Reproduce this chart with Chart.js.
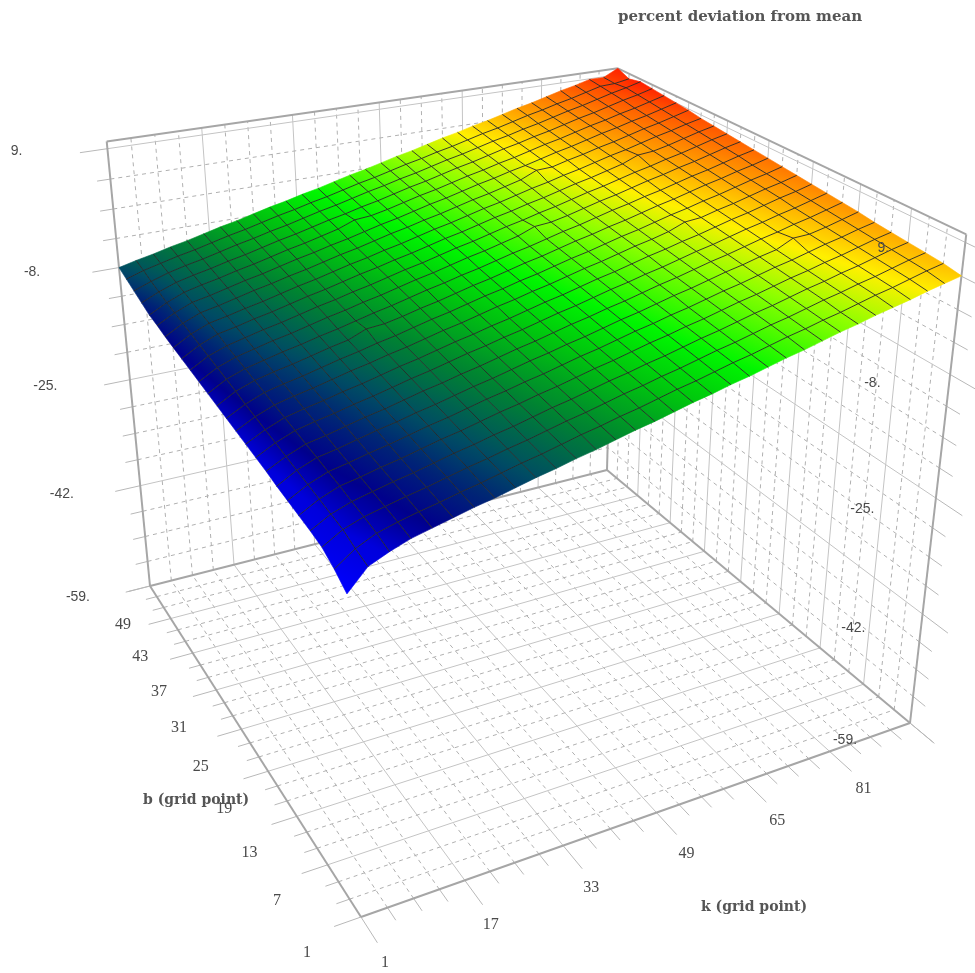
<!DOCTYPE html>
<html><head><meta charset="utf-8">
<script src="https://cdn.jsdelivr.net/npm/chart.js@4.4.1/dist/chart.umd.min.js"></script>
<style>html,body{margin:0;padding:0;background:#fff;overflow:hidden}</style>
</head><body>
<canvas id="c" width="975" height="973"></canvas>
<script>
// ---------------- data ----------------
const kGrid = [1,4,7,10,13,16,19,22,25,28,31,34,37,40,43,46,49,52,55,58,61,64,67,70,73,76,79,82,85,88,91,94,97];
const bGrid = [1,3,5,7,9,11,13,15,17,19,21,23,25,27,29,31,33,35,37,39,41,43,45,47,49];
// percent deviation from mean, one row per b grid point, values along k
const zB01 = [-16,-13.4,-12.3,-11.4,-10.8,-10.2,-9.6,-9.1,-8.5,-7.9,-7.4,-6.8,-6.3,-5.7,-5.1,-4.6,-4,-3.4,-2.9,-2.3,-1.8,-1.2,-0.6,-0.1,0.5,1.1,1.6,2.2,2.7,3.2,3.8,4.3,4.8];
const zB03 = [-14.8,-13,-11.8,-11.1,-10.5,-10,-9.4,-8.9,-8.3,-7.7,-7.2,-6.6,-6,-5.5,-4.9,-4.4,-3.8,-3.2,-2.7,-2.1,-1.5,-1,-0.4,0.2,0.7,1.3,1.8,2.4,3,3.5,4.1,4.7,5.2];
const zB05 = [-13.9,-12.4,-11.5,-10.9,-10.3,-9.8,-9.2,-8.6,-8.1,-7.5,-7,-6.4,-5.8,-5.3,-4.7,-4.1,-3.6,-3,-2.5,-1.9,-1.3,-0.8,-0.2,0.4,0.9,1.5,2.1,2.6,3.2,3.7,4.3,4.9,5.4];
const zB07 = [-13.6,-12.2,-11.3,-10.7,-10.1,-9.6,-9,-8.4,-7.9,-7.3,-6.8,-6.2,-5.6,-5.1,-4.5,-3.9,-3.4,-2.8,-2.3,-1.7,-1.1,-0.6,0,0.6,1.1,1.7,2.3,2.8,3.4,3.9,4.5,5.1,5.6];
const zB09 = [-13.4,-12,-11,-10.5,-9.9,-9.4,-8.8,-8.2,-7.7,-7.1,-6.5,-6,-5.4,-4.9,-4.3,-3.7,-3.2,-2.6,-2,-1.5,-0.9,-0.4,0.2,0.8,1.3,1.9,2.5,3,3.6,4.1,4.7,5.3,5.8];
const zB11 = [-13.2,-11.8,-10.8,-10.3,-9.7,-9.2,-8.6,-8,-7.5,-6.9,-6.3,-5.8,-5.2,-4.7,-4.1,-3.5,-3,-2.4,-1.8,-1.3,-0.7,-0.2,0.4,1,1.5,2.1,2.7,3.2,3.8,4.4,4.9,5.5,6];
const zB13 = [-13,-11.6,-10.6,-10.1,-9.5,-8.9,-8.4,-7.8,-7.3,-6.7,-6.1,-5.6,-5,-4.4,-3.9,-3.3,-2.8,-2.2,-1.6,-1.1,-0.5,0.1,0.6,1.2,1.8,2.3,2.9,3.4,4.5,4.6,5.1,5.7,6.3];
const zB15 = [-12.7,-11.4,-10.4,-9.9,-9.3,-8.7,-8.2,-7.6,-7,-6.5,-5.9,-5.4,-4.8,-4.2,-3.7,-3.1,-2.5,-2,-1.4,-0.9,-0.3,0.3,0.8,1.4,2,2.5,3.1,3.7,4.2,4.8,5.3,5.9,6.5];
const zB17 = [-12.5,-11.2,-10.2,-9.6,-9.1,-8.5,-8,-7.4,-6.8,-6.3,-5.7,-5.1,-4.6,-4,-3.5,-2.9,-2.3,-1.8,-1.2,-0.6,-0.1,0.5,1,1.6,2.2,2.7,3.3,3.9,4.4,5,5.5,6.1,6.7];
const zB19 = [-12.3,-11,-10,-9.4,-8.9,-8.3,-7.8,-7.2,-6.6,-6.1,-5.5,-4.9,-4.4,-3.8,-3.3,-2.7,-2.1,-1.6,-1,-0.4,0.1,0.7,1.3,1.8,2.4,2.9,3.5,4.1,4.6,5.2,5.8,6.3,6.9];
const zB21 = [-12.1,-10.8,-9.8,-9.2,-8.7,-8.1,-7.5,-7,-6.4,-5.9,-5.3,-4.7,-4.2,-3.6,-3,-2.5,-1.9,-1.4,-0.8,-0.2,0.3,0.9,1.5,2,2.6,3.5,3.7,4.3,4.8,5.4,6,6.5,7.1];
const zB23 = [-11.9,-10.6,-9.6,-9,-8.5,-7.9,-7.3,-6.8,-6.2,-5.7,-5.1,-4.5,-4,-3.4,-2.8,-2.3,-1.7,-1.2,-0.6,0,0.5,1.1,1.7,2.2,2.8,3.4,3.9,4.5,5,5.6,6.2,6.7,7.3];
const zB25 = [-11.7,-10.3,-9.4,-8.8,-8.3,-7.7,-7.1,-6.6,-5.6,-5.4,-4.9,-4.3,-3.8,-3.2,-2.6,-2.1,-1.5,-0.9,-0.4,0.2,0.8,1.3,1.9,2.4,3,3.6,4.1,4.7,5.3,5.8,6.4,6.9,7.5];
const zB27 = [-11.5,-10.1,-9.2,-8.6,-8,-7.5,-6.9,-6.4,-5.8,-5.2,-4.7,-4.1,-3.5,-3,-2.4,-1.9,-1.3,-0.7,-0.2,0.4,1,1.5,2.1,2.7,3.2,3.8,4.3,4.9,5.5,6,6.6,7.2,7.7];
const zB29 = [-11.3,-9.9,-9,-8.4,-7.8,-7.3,-6.7,-6.1,-5.6,-5,-4.5,-3.9,-3.3,-2.8,-2.2,-1.6,-1.1,-0.5,0.1,1,1.2,1.7,2.3,2.9,3.4,4,4.6,5.1,5.7,6.2,6.8,7.4,7.9];
const zB31 = [-11.1,-9.7,-8.8,-8.2,-7.6,-7.1,-6.5,-5.9,-5.4,-4.8,-4.3,-3.7,-3.1,-2.6,-2,-1.4,-0.9,-0.3,0.3,0.8,1.4,1.9,2.5,3.1,3.6,4.2,4.8,5.3,5.9,6.4,7,7.6,8.1];
const zB33 = [-10.9,-9.5,-8.5,-8,-7.4,-6.9,-6.3,-5.7,-5.2,-4.6,-4,-3.5,-2.9,-2.4,-1.8,-1.2,-0.7,-0.1,0.5,1,1.6,2.1,2.7,3.3,3.8,4.4,5,5.9,6.1,6.6,7.2,7.8,8.3];
const zB35 = [-10.7,-9.3,-8.3,-7.8,-7.2,-6.7,-6.1,-5.5,-5,-4.4,-3.8,-3.3,-2.7,-2.2,-1.6,-1,-0.5,0.1,0.7,1.2,1.8,2.4,2.9,3.5,4,4.6,5.2,5.7,6.3,6.9,7.4,8,8.5];
const zB37 = [-10.5,-9.1,-8.1,-7.6,-7,-6.4,-5.9,-5.3,-4.8,-4.2,-3.6,-3.1,-2.5,-1.9,-1.4,-0.8,-0.3,0.3,0.9,1.4,2,2.6,3.6,3.7,4.3,4.8,5.4,5.9,6.5,7.1,7.6,8.2,8.8];
const zB39 = [-10.2,-8.9,-7.9,-7.4,-6.8,-6.2,-5.7,-5.1,-4.5,-4,-3.4,-2.9,-2.3,-1.7,-1.2,-0.6,0,0.5,1.1,1.7,2.2,2.8,3.3,3.9,4.5,5,5.6,6.2,6.7,7.3,7.8,8.4,9];
const zB41 = [-10,-8.7,-7.7,-7.1,-6.6,-6,-5.5,-4.9,-4.3,-3.8,-3.2,-2.6,-1.7,-1.5,-1,-0.4,0.2,0.7,1.3,1.9,2.4,3,3.5,4.1,4.7,5.2,5.8,6.4,6.9,7.5,8,8.6,9.2];
const zB43 = [-9.5,-8.4,-7.5,-6.9,-6.4,-5.8,-5.3,-4.7,-4.1,-3.6,-3,-2.4,-1.9,-1.3,-0.8,-0.2,0.4,0.9,1.5,2.1,2.6,3.2,3.8,4.3,4.9,5.4,6,6.6,7.1,7.7,8.3,8.8,9.4];
const zB45 = [-9,-8.1,-7.3,-6.7,-6.2,-5.6,-5,-4.5,-3.9,-3.4,-2.8,-2.2,-1.7,-1.1,-0.5,0,0.6,1.1,1.7,2.3,2.8,3.4,4,4.5,5.1,5.6,6.2,6.8,7.3,7.9,8.5,9,9.6];
const zB47 = [-8.5,-7.7,-7.1,-6.5,-6,-5.4,-4.8,-4.3,-3.7,-3.1,-2.6,-2,-1.5,-0.9,-0.3,0.2,0.8,1.4,1.9,2.5,3,3.6,4.2,4.7,5.3,5.9,6.4,7,7.5,8.1,8.7,8.8,9.2];
const zB49 = [-8,-7.4,-6.9,-6.3,-5.8,-5.2,-4.6,-4.1,-3.5,-2.9,-2.4,-1.8,-1.3,-0.7,-0.1,0.4,1,1.6,2.1,2.7,3.3,3.8,4.4,4.9,5.5,6.1,6.6,7.2,7.8,8.3,8.9,8.9,10];
const zRows = [zB01,zB03,zB05,zB07,zB09,zB11,zB13,zB15,zB17,zB19,zB21,zB23,zB25,zB27,zB29,zB31,zB33,zB35,zB37,zB39,zB41,zB43,zB45,zB47,zB49];

const kTicks = [1,17,33,49,65,81];
const bTicks = [1,7,13,19,25,31,37,43,49];
const zTicks = [-59,-42,-25,-8,9];
const zTickLabels = ['-59.','-42.','-25.','-8.','9.'];
const kMinorStep = 4, bMinorStep = 2, zMinorStep = 4.25, kMajorStep = 16, bMajorStep = 6;

const titleText = 'percent deviation from mean';
const kTitle = 'k (grid point)';
const bTitle = 'b (grid point)';

// ---------------- box / view ----------------
const K_MIN = 1, K_MAX = 97, B_MIN = 1, B_MAX = 49, Z_MIN = -59, Z_MAX = 10;
// screen anchors of the box corners (chart scale units)
const view = {A:[150,586], B:[361,917], C:[910,723], D:[607,470], At:[107,143], Dt:[617,68], Ct:[967,233]};

function det3(m){return m[0][0]*(m[1][1]*m[2][2]-m[1][2]*m[2][1])-m[0][1]*(m[1][0]*m[2][2]-m[1][2]*m[2][0])+m[0][2]*(m[1][0]*m[2][1]-m[1][1]*m[2][0]);}
function solve3(M,v){const D=det3(M);const out=[];for(let c=0;c<3;c++){const m=M.map((r,i)=>r.map((x,j)=>j===c?v[i]:x));out.push(det3(m)/D);}return out;}
function buildCamera(){
  const [x0,y0]=view.B,[x1,y1]=view.C,[x2,y2]=view.D,[x3,y3]=view.A;
  const dx1=x1-x2,dx2=x3-x2,dx3=x0-x1+x2-x3;
  const dy1=y1-y2,dy2=y3-y2,dy3=y0-y1+y2-y3;
  const den=dx1*dy2-dx2*dy1;
  const g=(dx3*dy2-dx2*dy3)/den,h=(dx1*dy3-dx3*dy1)/den;
  const a=x1-x0+g*x1,b=x3-x0+h*x3,c=x0,d=y1-y0+g*y1,e=y3-y0+h*y3,f=y0;
  const F=(u,w)=>[a*u+b*w+c,d*u+e*w+f,g*u+h*w+1];
  const tops=[[0,1,view.At],[1,1,view.Dt],[1,0,view.Ct]];
  const M=[[0,0,0],[0,0,0],[0,0,0]],v=[0,0,0];
  for(const [u,w,[X,Y]] of tops){
    const Fv=F(u,w);
    const rows=[[[1,0,-X],X*Fv[2]-Fv[0]],[[0,1,-Y],Y*Fv[2]-Fv[1]]];
    for(const [r,rhs] of rows){for(let p=0;p<3;p++){v[p]+=r[p]*rhs;for(let q=0;q<3;q++)M[p][q]+=r[p]*r[q];}}
  }
  return {F,P:solve3(M,v)};
}
const cam = buildCamera();
function project(k,b,z){
  const u=(k-K_MIN)/(K_MAX-K_MIN), w=(b-B_MIN)/(B_MAX-B_MIN), t=(z-Z_MIN)/(Z_MAX-Z_MIN);
  const Fv=cam.F(u,w);
  const X=Fv[0]+t*cam.P[0],Y=Fv[1]+t*cam.P[1],W=Fv[2]+t*cam.P[2];
  return {x:X/W,y:Y/W,w:W};
}

// ---------------- colours ----------------
const colorStops=[[-16,[0,0,255]],[-12.5,[0,0,220]],[-10.7,[0,0,140]],[-9.3,[0,35,118]],[-8,[0,75,100]],[-5.8,[0,130,50]],[-3.5,[0,195,15]],[-1.5,[0,245,0]],[1.5,[140,255,0]],[3.8,[255,240,0]],[6,[255,160,0]],[8.5,[255,80,0]],[10,[255,10,0]]];
function zColor(z){
  if(z<=colorStops[0][0])return 'rgb('+colorStops[0][1].join(',')+')';
  for(let i=1;i<colorStops.length;i++){
    if(z<=colorStops[i][0]){const [z0,c0]=colorStops[i-1],[z1,c1]=colorStops[i];const t=(z-z0)/(z1-z0);
      return 'rgb('+c0.map((v,j)=>Math.round(v+(c1[j]-v)*t)).join(',')+')';}
  }
  return 'rgb('+colorStops[colorStops.length-1][1].join(',')+')';
}

// ---------------- mesh datasets ----------------
const meshDatasets=[];
for(let i=1;i<kGrid.length-1;i++){
  meshDatasets.push({data:bGrid.map((b,j)=>{const p=project(kGrid[i],b,zRows[j][i]);return {x:p.x,y:p.y};}),
    showLine:true,borderColor:'rgba(40,40,40,0.9)',borderWidth:1,pointRadius:0,tension:0});
}
for(let j=1;j<bGrid.length-1;j++){
  meshDatasets.push({data:kGrid.map((k,i)=>{const p=project(k,bGrid[j],zRows[j][i]);return {x:p.x,y:p.y};}),
    showLine:true,borderColor:'rgba(40,40,40,0.9)',borderWidth:1,pointRadius:0,tension:0});
}

function range(a,b,s){const o=[];for(let v=a;v<=b+1e-9;v+=s)o.push(+v.toFixed(4));return o;}

const surfacePlugin={
  id:'surface3d',
  beforeDatasetsDraw(chart){
    const ctx=chart.ctx, xs=chart.scales.x, ys=chart.scales.y;
    const px=p=>[xs.getPixelForValue(p.x),ys.getPixelForValue(p.y)];
    const line=(a,b)=>{const p=px(project(...a)),q=px(project(...b));ctx.beginPath();ctx.moveTo(p[0],p[1]);ctx.lineTo(q[0],q[1]);ctx.stroke();};
    ctx.save();
    const solid=()=>{ctx.setLineDash([]);ctx.strokeStyle='#c4c4c4';ctx.lineWidth=1;};
    const dashed=()=>{ctx.setLineDash([4,4]);ctx.strokeStyle='#b0b0b0';ctx.lineWidth=1;};
    const tick=()=>{ctx.setLineDash([]);ctx.strokeStyle='#b8b8b8';ctx.lineWidth=1;};
    const kLines=range(K_MIN,K_MAX,kMinorStep), bLines=range(B_MIN,B_MAX,bMinorStep), zLines=range(Z_MIN,Z_MAX,zMinorStep);
    const isMajK=k=>Math.abs(((k-K_MIN)/kMajorStep)-Math.round((k-K_MIN)/kMajorStep))<1e-6;
    const isMajB=b=>Math.abs(((b-B_MIN)/bMajorStep)-Math.round((b-B_MIN)/bMajorStep))<1e-6;
    const isMajZ=z=>zTicks.some(t=>Math.abs(t-z)<1e-6);
    // floor
    for(const k of kLines){ if(k===K_MIN||k===K_MAX)continue; isMajK(k)?solid():dashed(); line([k,B_MIN,Z_MIN],[k,B_MAX,Z_MIN]); }
    for(const b of bLines){ if(b===B_MIN||b===B_MAX)continue; isMajB(b)?solid():dashed(); line([K_MIN,b,Z_MIN],[K_MAX,b,Z_MIN]); }
    for(const k of kLines){ tick(); line([k,B_MIN,Z_MIN],[k,B_MIN-(isMajK(k)?2.8:1.4),Z_MIN]); }
    for(const b of bLines){ tick(); line([K_MIN,b,Z_MIN],[K_MIN-(isMajB(b)?4:2),b,Z_MIN]); }
    // back wall b = B_MAX
    for(const k of kLines){ if(k===K_MIN||k===K_MAX)continue; isMajK(k)?solid():dashed(); line([k,B_MAX,Z_MIN],[k,B_MAX,Z_MAX]); }
    for(const z of zLines){ if(z===Z_MIN)continue; isMajZ(z)?solid():dashed(); line([K_MIN,B_MAX,z],[K_MAX,B_MAX,z]); tick(); line([K_MIN,B_MAX,z],[K_MIN-(isMajZ(z)?4.5:2.2),B_MAX,z]); }
    tick(); line([K_MIN,B_MAX,Z_MIN],[K_MIN-4.5,B_MAX,Z_MIN]);
    // right wall k = K_MAX
    for(const b of bLines){ if(b===B_MIN||b===B_MAX)continue; isMajB(b)?solid():dashed(); line([K_MAX,b,Z_MIN],[K_MAX,b,Z_MAX]); }
    for(const z of zLines){ if(z===Z_MIN)continue; isMajZ(z)?solid():dashed(); line([K_MAX,B_MIN,z],[K_MAX,B_MAX,z]); tick(); line([K_MAX,B_MIN,z],[K_MAX,B_MIN-(isMajZ(z)?3:1.5),z]); }
    tick(); line([K_MAX,B_MIN,Z_MIN],[K_MAX,B_MIN-3,Z_MIN]);
    // box edges
    ctx.setLineDash([]); ctx.strokeStyle='#a6a6a6'; ctx.lineWidth=2;
    const edges=[[[K_MIN,B_MIN,Z_MIN],[K_MIN,B_MAX,Z_MIN]],[[K_MIN,B_MIN,Z_MIN],[K_MAX,B_MIN,Z_MIN]],[[K_MIN,B_MAX,Z_MIN],[K_MAX,B_MAX,Z_MIN]],[[K_MAX,B_MIN,Z_MIN],[K_MAX,B_MAX,Z_MIN]],
      [[K_MIN,B_MAX,Z_MIN],[K_MIN,B_MAX,Z_MAX]],[[K_MAX,B_MAX,Z_MIN],[K_MAX,B_MAX,Z_MAX]],[[K_MAX,B_MIN,Z_MIN],[K_MAX,B_MIN,Z_MAX]],
      [[K_MIN,B_MAX,Z_MAX],[K_MAX,B_MAX,Z_MAX]],[[K_MAX,B_MIN,Z_MAX],[K_MAX,B_MAX,Z_MAX]]];
    for(const [a,b] of edges)line(a,b);
    // surface quads
    const quads=[];
    for(let j=0;j<bGrid.length-1;j++)for(let i=0;i<kGrid.length-1;i++){
      const idx=[[i,j],[i+1,j],[i+1,j+1],[i,j+1]];
      const pr=idx.map(([a,c])=>project(kGrid[a],bGrid[c],zRows[c][a]));
      quads.push({pts:pr.map(px),zs:idx.map(([a,c])=>zRows[c][a]),w:pr.reduce((s,p)=>s+p.w,0)});
    }
    quads.sort((a,b)=>b.w-a.w);
    for(const q of quads){
      const P=q.pts,Z=q.zs;
      const e1=[P[1][0]-P[0][0],P[1][1]-P[0][1]],e3=[P[3][0]-P[0][0],P[3][1]-P[0][1]];
      const dz1=Z[1]-Z[0],dz3=Z[3]-Z[0];
      const dt=e1[0]*e3[1]-e1[1]*e3[0];
      let fill;
      const zmin=Math.min(...Z),zmax=Math.max(...Z);
      if(Math.abs(dt)<1e-9||zmax-zmin<1e-6){fill=zColor((zmin+zmax)/2);}
      else{
        const al=(dz1*e3[1]-e1[1]*dz3)/dt, be=(e1[0]*dz3-dz1*e3[0])/dt, g2=al*al+be*be;
        if(g2<1e-12){fill=zColor((zmin+zmax)/2);}
        else{
          const dx=al/g2,dy=be/g2;
          const S=[P[0][0]+dx*(zmin-Z[0]),P[0][1]+dy*(zmin-Z[0])],E=[P[0][0]+dx*(zmax-Z[0]),P[0][1]+dy*(zmax-Z[0])];
          fill=ctx.createLinearGradient(S[0],S[1],E[0],E[1]);
          fill.addColorStop(0,zColor(zmin));
          for(const [zs] of colorStops){if(zs>zmin&&zs<zmax)fill.addColorStop((zs-zmin)/(zmax-zmin),zColor(zs));}
          fill.addColorStop(1,zColor(zmax));
        }
      }
      ctx.beginPath();ctx.moveTo(P[0][0],P[0][1]);for(let n=1;n<4;n++)ctx.lineTo(P[n][0],P[n][1]);ctx.closePath();
      ctx.fillStyle=fill;ctx.fill();
      ctx.strokeStyle=fill;ctx.lineWidth=0.6;ctx.stroke();
    }
    ctx.restore();
  },
  afterDatasetsDraw(chart){
    const ctx=chart.ctx, xs=chart.scales.x, ys=chart.scales.y;
    const px=p=>[xs.getPixelForValue(p.x),ys.getPixelForValue(p.y)];
    ctx.save();
    ctx.fillStyle='#4a4a4a';ctx.textBaseline='middle';
    // b tick labels
    ctx.font='16px "Liberation Serif"';ctx.textAlign='center';
    for(const b of bTicks){const t=(b-B_MIN)/(B_MAX-B_MIN);const p=px(project(K_MIN,b,Z_MIN));ctx.fillText(String(b),p[0]-54+27*t,p[1]+36+3*t);}
    // k tick labels
    for(const k of kTicks){const t=(k-K_MIN)/(K_MAX-K_MIN);const p=px(project(k,B_MIN,Z_MIN));ctx.fillText(String(k),p[0]+24+12*t,p[1]+46-10*t);}
    // z tick labels
    ctx.font='14px "Liberation Sans"';
    zTicks.forEach((z,n)=>{
      const t=(z-Z_MIN)/(9-Z_MIN);
      const p=px(project(K_MIN,B_MAX,z));
      ctx.textAlign='right';ctx.fillText(zTickLabels[n],p[0]-60-25*t,p[1]+11-9*t);
      const q=px(project(K_MAX,B_MIN,z));
      ctx.textAlign='center';ctx.fillText(zTickLabels[n],q[0]-65-17*t,q[1]+17-11*t);
    });
    // titles
    ctx.fillStyle='#555';ctx.textAlign='left';
    ctx.font='bold 15px "DejaVu Serif"';ctx.fillText(titleText,618,17);
    ctx.font='bold 14px "DejaVu Serif"';ctx.fillText(bTitle,143,800);ctx.fillText(kTitle,701,907);
    ctx.restore();
  }
};

new Chart(document.getElementById('c'),{
  type:'scatter',
  data:{datasets:meshDatasets},
  options:{
    responsive:false,animation:false,events:[],
    layout:{padding:0},
    plugins:{legend:{display:false},tooltip:{enabled:false},title:{display:false}},
    scales:{x:{type:'linear',min:0,max:975,display:false},y:{type:'linear',min:0,max:973,reverse:true,display:false}}
  },
  plugins:[surfacePlugin]
});
</script>
</body></html>
